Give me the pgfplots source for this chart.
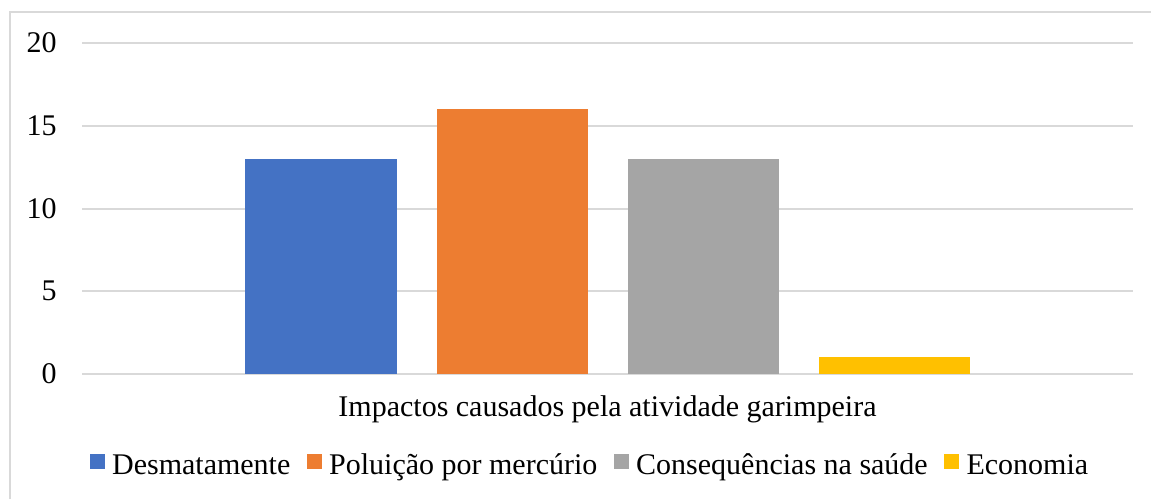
\documentclass[border=0pt]{standalone}
\usepackage{fontspec}
\setmainfont{Liberation Serif}
\usepackage{pgfplots}
\pgfplotsset{compat=1.18}

\definecolor{cblue}{HTML}{4472C4}
\definecolor{corange}{HTML}{ED7D31}
\definecolor{cgray}{HTML}{A5A5A5}
\definecolor{cgold}{HTML}{FFC000}
\definecolor{gridc}{HTML}{D9D9D9}

\newcommand{\chartfont}{\fontsize{15}{18}\selectfont}

\begin{document}
\begin{tikzpicture}[x=1pt,y=1pt]
\useasboundingbox (0,0) rectangle (575.5,249.5);
% chart frame
\draw[gridc, line width=1pt] (4.75,0) -- (4.75,243.25) -- (575.5,243.25);
\begin{axis}[
  at={(41pt,62.5pt)}, anchor=south west,
  scale only axis, width=525.5pt, height=165.5pt,
  ybar=20pt, bar width=75.5pt,
  xmin=-0.5, xmax=0.5, ymin=0, ymax=20,
  ytick={0,5,10,15,20}, xtick=\empty,
  axis line style={draw=none},
  major tick style={draw=none},
  ymajorgrids, grid style={gridc, line width=1pt},
  /pgf/number format/assume math mode=true,
  yticklabel style={font=\chartfont, anchor=east, inner sep=0pt, xshift=-12.5pt},
  xlabel={Impactos causados pela atividade garimpeira},
  xlabel style={font=\chartfont, at={(axis description cs:0.5,-0.106)}, anchor=center},
  legend columns=4,
  legend style={draw=none, fill=none, font=\chartfont,
    at={(axis description cs:0.4835,-0.277)}, anchor=center,
    /tikz/every odd column/.append style={column sep=2.5pt},
    /tikz/every even column/.append style={column sep=7pt},
    nodes={inner sep=1.2pt}},
  legend image code/.code={\fill[#1] (0pt,-1.5pt) rectangle (7.5pt,6pt);},
]
\addplot[fill=cblue, draw=none] coordinates {(0,13)};
\addplot[fill=corange, draw=none] coordinates {(0,16)};
\addplot[fill=cgray, draw=none] coordinates {(0,13)};
\addplot[fill=cgold, draw=none] coordinates {(0,1)};
\legend{Desmatamente, Poluição por mercúrio, Consequências na saúde, Economia}
\end{axis}
\end{tikzpicture}
\end{document}
